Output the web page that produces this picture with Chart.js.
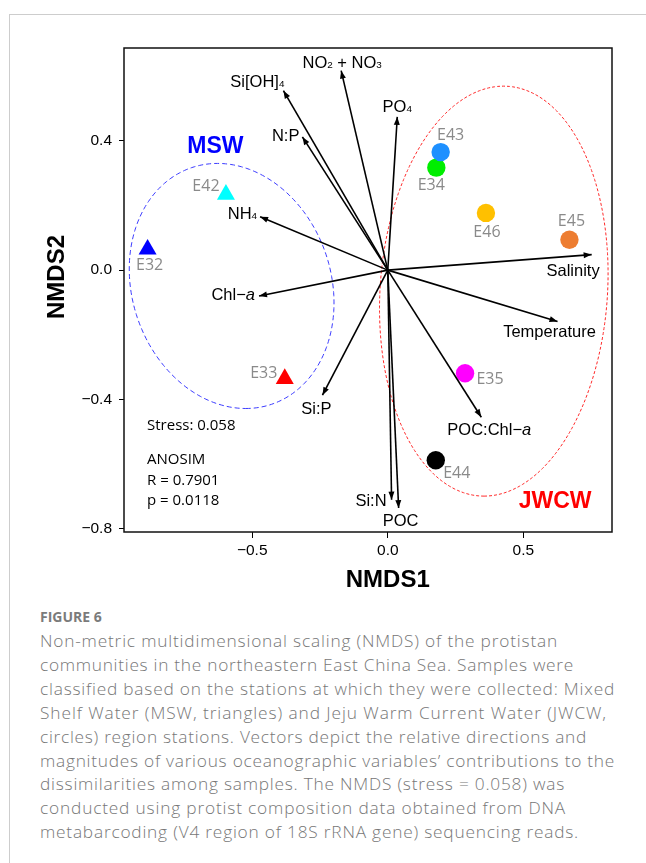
<!DOCTYPE html>
<html>
<head>
<meta charset="utf-8">
<title>NMDS of protistan communities</title>
<script src="https://cdn.jsdelivr.net/npm/chart.js@4.4.0/dist/chart.umd.min.js"></script>
<style>
  html, body { margin: 0; padding: 0; background: #fff; width: 646px; height: 863px; overflow: hidden; }
  #card { position: absolute; left: 9px; top: 14px; width: 700px; height: 900px;
          border-left: 1px solid #cdcdcd; border-top: 1px solid #cdcdcd; }
  #plot { position: absolute; left: 0; top: 0; }
  #fig-label { position: absolute; left: 40px; top: 609px; font: bold 14px "Open Sans", sans-serif;
               line-height: 16px; color: #7b7b7b; }
  #caption { position: absolute; left: 40px; top: 629px; font: 300 17.3px "Open Sans", sans-serif;
             line-height: 23.9px; color: #777; white-space: nowrap; }
  #caption span { display: inline-block; }
</style>
</head>
<body>
<div id="card"></div>
<canvas id="plot" width="646" height="600"></canvas>
<div id="fig-label">FIGURE 6</div>
<div id="caption"></div>
<script>
// Station scores (NMDS1, NMDS2)
const mswStations = ['E32', 'E42', 'E33'];
const mswNMDS1 = [-0.886, -0.597, -0.380];
const mswNMDS2 = [0.064, 0.234, -0.336];

const jwcwStations = ['E34', 'E43', 'E46', 'E45', 'E35', 'E44'];
const jwcwNMDS1 = [0.179, 0.195, 0.362, 0.670, 0.285, 0.177];
const jwcwNMDS2 = [0.317, 0.365, 0.177, 0.094, -0.319, -0.588];

// Fitted environmental vectors (arrow tips, origin at 0,0)
const envVars = ['NO_2 + NO_3', 'Si[OH]_4', 'N:P', 'PO_4', 'NH_4', 'Salinity',
                 'Chl\u2212*a*', 'Temperature', 'Si:P', 'POC:Chl\u2212*a*', 'Si:N', 'POC'];
const envNMDS1 = [-0.172, -0.385, -0.315, 0.035, -0.471, 0.752, -0.475, 0.626, -0.241, 0.345, 0.014, 0.040];
const envNMDS2 = [0.617, 0.555, 0.412, 0.474, 0.165, 0.048, -0.080, -0.159, -0.387, -0.455, -0.710, -0.736];

// Group ellipses: centre x, centre y, offset to lowest point (x, y), horizontal half-width
const mswEllipse = [-0.576, -0.049, 0.052, -0.379, 0.374];
const jwcwEllipse = [0.391, -0.065, -0.036, -0.634, 0.420];

// Stats
const stress = 0.058;
const anosimR = 0.7901;
const anosimP = 0.0118;

// Axes
const xRange = [-0.973, 0.827];
const yRange = [-0.810, 0.687];
const xTicks = [-0.5, 0.0, 0.5];
const yTicks = [-0.8, -0.4, 0.0, 0.4];

const captionLines = [
  'Non-metric multidimensional scaling (NMDS) of the protistan',
  'communities in the northeastern East China Sea. Samples were',
  'classified based on the stations at which they were collected: Mixed',
  'Shelf Water (MSW, triangles) and Jeju Warm Current Water (JWCW,',
  'circles) region stations. Vectors depict the relative directions and',
  'magnitudes of various oceanographic variables\u2019 contributions to the',
  'dissimilarities among samples. The NMDS (stress = 0.058) was',
  'conducted using protist composition data obtained from DNA',
  'metabarcoding (V4 region of 18S rRNA gene) sequencing reads.'
];

// ---- styling ----
const mswColors = ['#0000ff', '#00ffff', '#ff0000'];
const jwcwColors = ['#00ee00', '#1e90ff', '#ffc000', '#ed7d31', '#ff00ff', '#000000'];

// caption line widths in px (justified per line)
const captionWidths = [518, 534, 575, 567, 547, 575, 525, 526, 539];

// label offsets in px from the mark: [dx, dy, align]
const envLabelPos = [[1, -9, 'center'], [1, -10, 'right'], [-3, -2, 'right'], [0, -11, 'center'],
                     [-3, -4, 'right'], [8, 15, 'right'], [-4, -2, 'right'], [-8, 10, 'center'],
                     [-6, 13, 'center'], [8, 12, 'center'], [-5, 0, 'right'], [2, 12, 'center']];
const mswLabelPos = [[2, 16], [-20, -8], [-21, -5]];
const jwcwLabelPos = [[-5, 18], [10, -17], [1, 20], [2, -18], [25, 6], [21, 13]];

const SANS = '"Liberation Sans", Arial, sans-serif';
const OPEN = '"Open Sans", sans-serif';

const fmtTick = v => (v < 0 ? '\u2212' : '') + Math.abs(v).toFixed(1);

// caption: one span per line, letter spacing stretched to the line width
const captionBox = document.getElementById('caption');
captionLines.forEach((line, i) => {
  const span = document.createElement('span');
  span.textContent = line;
  captionBox.appendChild(span);
  captionBox.appendChild(document.createElement('br'));
  const natural = span.getBoundingClientRect().width;
  span.style.letterSpacing = ((captionWidths[i] - natural) / line.length).toFixed(3) + 'px';
});

// split 'PO_4' / 'Chl-*a*' style labels into plain, subscript and italic parts
function parseLabel(str) {
  const parts = [];
  const re = /_(\d)|\*([^*]+)\*/g;
  let last = 0, m;
  while ((m = re.exec(str))) {
    if (m.index > last) parts.push({ t: str.slice(last, m.index) });
    if (m[1]) parts.push({ t: m[1], sub: true });
    else parts.push({ t: m[2], it: true });
    last = re.lastIndex;
  }
  if (last < str.length) parts.push({ t: str.slice(last) });
  return parts;
}

function drawRich(ctx, str, x, cy, align, size) {
  const parts = parseLabel(str);
  const fontOf = p => p.sub ? `${size * 0.6}px ${SANS}` : p.it ? `italic ${size}px ${SANS}` : `${size}px ${SANS}`;
  let total = 0;
  parts.forEach(p => { ctx.font = fontOf(p); p.w = ctx.measureText(p.t).width; total += p.w; });
  let px = align === 'right' ? x - total : align === 'center' ? x - total / 2 : x;
  const base = cy + size * 0.36;
  ctx.textAlign = 'left';
  ctx.textBaseline = 'alphabetic';
  parts.forEach(p => {
    ctx.font = fontOf(p);
    ctx.fillText(p.t, px, p.sub ? base + 0.5 : base);
    px += p.w;
  });
}

const ellipsePlugin = {
  id: 'groupEllipses',
  beforeDatasetsDraw(chart) {
    const { ctx, chartArea: a, scales: { x, y } } = chart;
    ctx.save();
    ctx.beginPath();
    ctx.rect(a.left, a.top, a.width, a.height);
    ctx.clip();
    ctx.lineWidth = 1;
    [[mswEllipse, '#3b3bff', [5, 3]], [jwcwEllipse, '#ff2a2a', [3, 2]]].forEach(([e, color, dash]) => {
      ctx.beginPath();
      for (let i = 0; i <= 240; i++) {
        const t = i / 240 * Math.PI * 2;
        const px = x.getPixelForValue(e[0] + Math.cos(t) * e[2] + Math.sin(t) * e[4]);
        const py = y.getPixelForValue(e[1] + Math.cos(t) * e[3]);
        if (i === 0) ctx.moveTo(px, py); else ctx.lineTo(px, py);
      }
      ctx.closePath();
      ctx.setLineDash(dash);
      ctx.strokeStyle = color;
      ctx.stroke();
    });
    ctx.restore();
  }
};

const annotationPlugin = {
  id: 'nmdsAnnotations',
  afterDatasetsDraw(chart) {
    const { ctx, chartArea: a, scales: { x, y } } = chart;
    ctx.save();

    // arrow heads
    const ox = x.getPixelForValue(0), oy = y.getPixelForValue(0);
    ctx.fillStyle = '#000';
    envVars.forEach((name, i) => {
      const tx = x.getPixelForValue(envNMDS1[i]), ty = y.getPixelForValue(envNMDS2[i]);
      const ang = Math.atan2(ty - oy, tx - ox);
      const len = 8, hw = 3;
      ctx.beginPath();
      ctx.moveTo(tx, ty);
      ctx.lineTo(tx - len * Math.cos(ang) + hw * Math.sin(ang), ty - len * Math.sin(ang) - hw * Math.cos(ang));
      ctx.lineTo(tx - len * Math.cos(ang) - hw * Math.sin(ang), ty - len * Math.sin(ang) + hw * Math.cos(ang));
      ctx.closePath();
      ctx.fill();
      const [dx, dy, align] = envLabelPos[i];
      drawRich(ctx, name, tx + dx, ty + dy, align, 16.5);
    });

    // station labels
    ctx.font = `16px ${OPEN}`;
    ctx.fillStyle = '#8a8a8a';
    ctx.textAlign = 'center';
    ctx.textBaseline = 'middle';
    mswStations.forEach((s, i) => {
      ctx.fillText(s, x.getPixelForValue(mswNMDS1[i]) + mswLabelPos[i][0], y.getPixelForValue(mswNMDS2[i]) + mswLabelPos[i][1]);
    });
    jwcwStations.forEach((s, i) => {
      ctx.fillText(s, x.getPixelForValue(jwcwNMDS1[i]) + jwcwLabelPos[i][0], y.getPixelForValue(jwcwNMDS2[i]) + jwcwLabelPos[i][1]);
    });

    // group names
    ctx.font = `bold 23px ${SANS}`;
    ctx.fillStyle = '#0000ff';
    ctx.fillText('MSW', x.getPixelForValue(-0.636), y.getPixelForValue(0.381));
    ctx.fillStyle = '#ff0000';
    ctx.fillText('JWCW', x.getPixelForValue(0.617), y.getPixelForValue(-0.717));

    // stress and ANOSIM
    ctx.fillStyle = '#000';
    ctx.font = `15px ${OPEN}`;
    ctx.textAlign = 'left';
    const sx = a.left + 23;
    ctx.fillText('Stress: ' + stress.toFixed(3), sx, 426);
    ctx.fillText('ANOSIM', sx, 460);
    ctx.fillText('R = ' + anosimR.toFixed(4), sx, 480.5);
    ctx.fillText('p = ' + anosimP.toFixed(4), sx, 501);

    // plot frame
    ctx.lineWidth = 1.5;
    ctx.strokeStyle = '#111';
    ctx.strokeRect(a.left, a.top, a.width, a.height);

    // axis titles
    ctx.font = `bold 24px ${SANS}`;
    ctx.textAlign = 'center';
    ctx.textBaseline = 'middle';
    ctx.fillText('NMDS1', x.getPixelForValue(0), 580);
    ctx.translate(57, 277);
    ctx.rotate(-Math.PI / 2);
    ctx.fillText('NMDS2', 0, 0);
    ctx.restore();
  }
};

const vectorSets = envVars.map((name, i) => ({
  label: name,
  data: [{ x: 0, y: 0 }, { x: envNMDS1[i], y: envNMDS2[i] }],
  showLine: true,
  borderColor: '#000',
  borderWidth: 1.6,
  pointRadius: 0,
  order: 1
}));

const axisCommon = {
  type: 'linear',
  grid: { drawOnChartArea: false, drawTicks: true, tickLength: 6, color: '#000', tickColor: '#000', lineWidth: 1 },
  border: { display: false },
  ticks: { font: { family: 'Liberation Sans', size: 15.5 }, color: '#000', autoSkip: false, maxRotation: 0, callback: fmtTick }
};

new Chart(document.getElementById('plot'), {
  type: 'scatter',
  data: {
    datasets: [
      ...vectorSets,
      {
        label: 'MSW',
        data: mswStations.map((s, i) => ({ x: mswNMDS1[i], y: mswNMDS2[i] })),
        pointStyle: 'triangle',
        pointRadius: 10.4,
        pointBackgroundColor: mswColors,
        pointBorderColor: mswColors,
        pointBorderWidth: 0,
        order: 2
      },
      {
        label: 'JWCW',
        data: jwcwStations.map((s, i) => ({ x: jwcwNMDS1[i], y: jwcwNMDS2[i] })),
        pointStyle: 'circle',
        pointRadius: 9.2,
        pointBackgroundColor: jwcwColors,
        pointBorderColor: jwcwColors,
        pointBorderWidth: 0,
        order: 2
      }
    ]
  },
  options: {
    responsive: false,
    animation: false,
    devicePixelRatio: 1,
    layout: { padding: { left: 0, top: 48, right: 34, bottom: 0 } },
    plugins: { legend: { display: false }, tooltip: { enabled: false } },
    scales: {
      x: {
        ...axisCommon,
        min: xRange[0], max: xRange[1],
        ticks: { ...axisCommon.ticks, padding: 3 },
        afterBuildTicks: s => { s.ticks = xTicks.map(v => ({ value: v })); },
        afterFit: s => { s.height = 68; }
      },
      y: {
        ...axisCommon,
        min: yRange[0], max: yRange[1],
        grid: { ...axisCommon.grid, tickLength: 5 },
        ticks: { ...axisCommon.ticks, padding: 7 },
        afterBuildTicks: s => { s.ticks = yTicks.map(v => ({ value: v })); },
        afterFit: s => { s.width = 124; }
      }
    }
  },
  plugins: [ellipsePlugin, annotationPlugin]
});
</script>
</body>
</html>
